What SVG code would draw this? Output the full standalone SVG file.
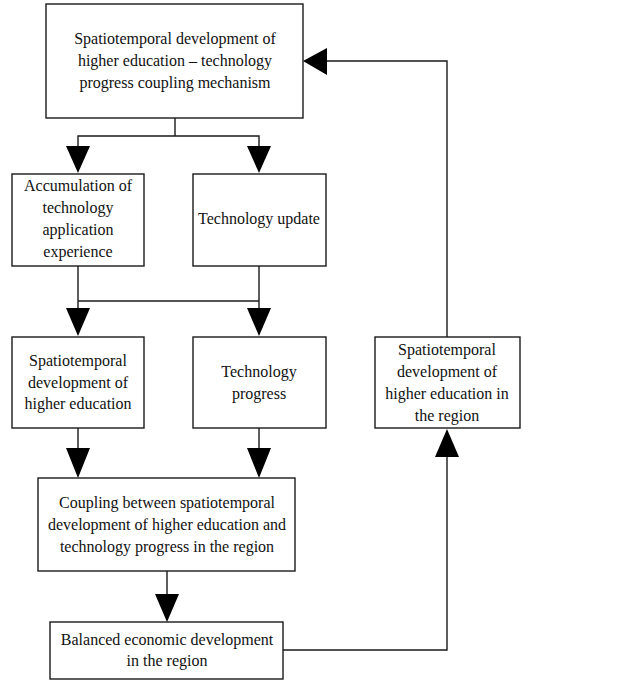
<svg xmlns="http://www.w3.org/2000/svg" width="622" height="680" viewBox="0 0 622 680">
  <style>
    .box { fill: #ffffff; stroke: #1a1a1a; stroke-width: 1.4; }
    .link { fill: none; stroke: #1a1a1a; stroke-width: 1.4; }
    .head { fill: #000000; stroke: none; }
    text { font-family: "Liberation Serif", "Times New Roman", serif; font-size: 16px; fill: #111111; text-anchor: middle; }
  </style>
  <rect width="622" height="680" fill="#ffffff"/>

  <!-- connectors -->
  <g id="connectors">
    <!-- top box splits into two -->
    <polyline class="link" points="175,118 175,136"/>
    <polyline class="link" points="78,146 78,136 259,136 259,146"/>
    <polygon class="head" points="66,146 90,146 78,173"/>
    <polygon class="head" points="247,146 271,146 259,173"/>
    <!-- second row merges into third row -->
    <polyline class="link" points="78,266 78,308"/>
    <polyline class="link" points="259,266 259,308"/>
    <polyline class="link" points="78,301 259,301"/>
    <polygon class="head" points="66,308 90,308 78,336"/>
    <polygon class="head" points="247,308 271,308 259,336"/>
    <!-- third row into coupling -->
    <polyline class="link" points="78,428 78,448"/>
    <polyline class="link" points="259,428 259,448"/>
    <polygon class="head" points="66,448 90,448 78,478"/>
    <polygon class="head" points="247,448 271,448 259,478"/>
    <!-- coupling into balanced development -->
    <polyline class="link" points="167,571 167,594"/>
    <polygon class="head" points="155,594 179,594 167,622"/>
    <!-- feedback loop on the right -->
    <polyline class="link" points="283,650 447,650 447,457"/>
    <polygon class="head" points="435,457 459,457 447,429"/>
    <polyline class="link" points="447,337 447,61 327,61"/>
    <polygon class="head" points="327,48 327,75 303,61"/>
  </g>

  <g id="mechanism">
    <rect class="box" x="46" y="4" width="257" height="114"/>
    <text x="175" y="44">Spatiotemporal development of</text>
    <text x="175" y="66">higher education – technology</text>
    <text x="175" y="88">progress coupling mechanism</text>
  </g>

  <g id="accumulation">
    <rect class="box" x="12" y="174" width="132" height="92"/>
    <text x="78" y="191">Accumulation of</text>
    <text x="78" y="213">technology</text>
    <text x="78" y="235">application</text>
    <text x="78" y="257">experience</text>
  </g>

  <g id="update">
    <rect class="box" x="193" y="174" width="133" height="92"/>
    <text x="259" y="224">Technology update</text>
  </g>

  <g id="higher-education">
    <rect class="box" x="12" y="337" width="132" height="91"/>
    <text x="78" y="366">Spatiotemporal</text>
    <text x="78" y="388">development of</text>
    <text x="78" y="409">higher education</text>
  </g>

  <g id="progress">
    <rect class="box" x="193" y="337" width="133" height="91"/>
    <text x="259" y="377">Technology</text>
    <text x="259" y="399">progress</text>
  </g>

  <g id="regional-education">
    <rect class="box" x="375" y="337" width="145" height="91"/>
    <text x="447" y="355">Spatiotemporal</text>
    <text x="447" y="377">development of</text>
    <text x="447" y="399">higher education in</text>
    <text x="447" y="421">the region</text>
  </g>

  <g id="coupling">
    <rect class="box" x="38" y="478" width="257" height="93"/>
    <text x="167" y="508">Coupling between spatiotemporal</text>
    <text x="167" y="530">development of higher education and</text>
    <text x="167" y="552">technology progress in the region</text>
  </g>

  <g id="balanced">
    <rect class="box" x="50" y="622" width="233" height="57"/>
    <text x="167" y="645">Balanced economic development</text>
    <text x="167" y="666">in the region</text>
  </g>
</svg>
